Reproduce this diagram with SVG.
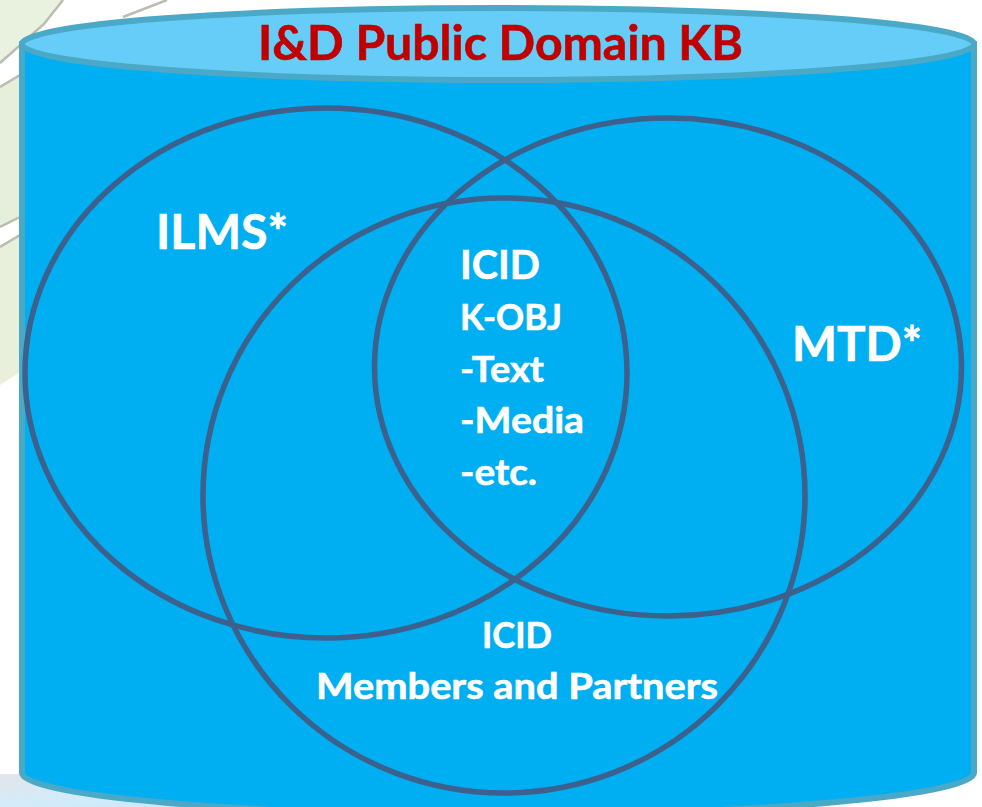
<svg xmlns="http://www.w3.org/2000/svg" width="982" height="807" viewBox="0 0 982 807">
<defs>
<linearGradient id="floor" x1="0" y1="0" x2="1" y2="1"><stop offset="0" stop-color="#e3e5e8"/><stop offset="0.5" stop-color="#d2ebfa"/><stop offset="1" stop-color="#c4e9fb"/></linearGradient>
</defs>
<style>
.venn{fill:none;stroke:#3b618c;stroke-width:5.500}
.t{font-family:Lato,"Liberation Sans",sans-serif;font-weight:700;fill:#fff;stroke:#fff;stroke-width:.6}
.leaf{fill:none;stroke:#b9bdb0;stroke-width:2.500}
</style>
<rect width="982" height="807" fill="#fff"/>
<g id="background">
<path d="M0 0H63L44 24 0 63Z" fill="#e9f1df"/>
<path d="M0 87 20 75V217L0 227Z" fill="#e6efdb"/>
<path d="M0 247 20 235V372L0 385Z" fill="#e8f0dc"/>
<path class="leaf" d="M0 63 44 24 63 0"/>
<path class="leaf" d="M0 87 20 75"/>
<path class="leaf" d="M0 227 20 217"/>
<path class="leaf" d="M0 247 20 235"/>
<path class="leaf" d="M123 17 167 0"/>
<rect x="0" y="774" width="340" height="33" fill="url(#floor)"/>
</g>
<g id="cylinder">
<path d="M22 44V773C22 795 235 815 497 815S974 795 974 773V44Z" fill="#00aef2" stroke="#4aa9c6" stroke-width="6"/>
<ellipse cx="498" cy="44" rx="476" ry="36" fill="#66cdf8" stroke="#4aa9c6" stroke-width="6"/>
<text x="258" y="60" font-family="Lato,'Liberation Sans',sans-serif" font-weight="700" font-size="48" fill="#c00000" stroke="#c00000" stroke-width=".6" textLength="485" lengthAdjust="spacingAndGlyphs">I&amp;D Public Domain KB</text>
</g>
<g id="connectors"></g>
<g id="ilms">
<ellipse class="venn" cx="326" cy="373" rx="301" ry="265"/>
<text class="t" x="156" y="249" font-size="47" textLength="132" lengthAdjust="spacingAndGlyphs">ILMS*</text>
</g>
<g id="mtd">
<ellipse class="venn" cx="668" cy="367" rx="293.500" ry="249"/>
<text class="t" x="792" y="361" font-size="47" textLength="130" lengthAdjust="spacingAndGlyphs">MTD*</text>
</g>
<g id="icid-members">
<ellipse class="venn" cx="504" cy="495.500" rx="301" ry="297.500"/>
<text class="t" x="482" y="648" font-size="36" textLength="70" lengthAdjust="spacingAndGlyphs">ICID</text>
<text class="t" x="316" y="699" font-size="37" textLength="402" lengthAdjust="spacingAndGlyphs">Members and Partners</text>
</g>
<g id="icid-kobj">
<text class="t" x="460" y="279" font-size="41" textLength="80" lengthAdjust="spacingAndGlyphs">ICID</text>
<text class="t" x="460" y="330" font-size="36" textLength="102" lengthAdjust="spacingAndGlyphs">K-OBJ</text>
<text class="t" x="460" y="382" font-size="37" textLength="84" lengthAdjust="spacingAndGlyphs">-Text</text>
<text class="t" x="460" y="433" font-size="37" textLength="124" lengthAdjust="spacingAndGlyphs">-Media</text>
<text class="t" x="460" y="485" font-size="37" textLength="77" lengthAdjust="spacingAndGlyphs">-etc.</text>
</g>
</svg>
